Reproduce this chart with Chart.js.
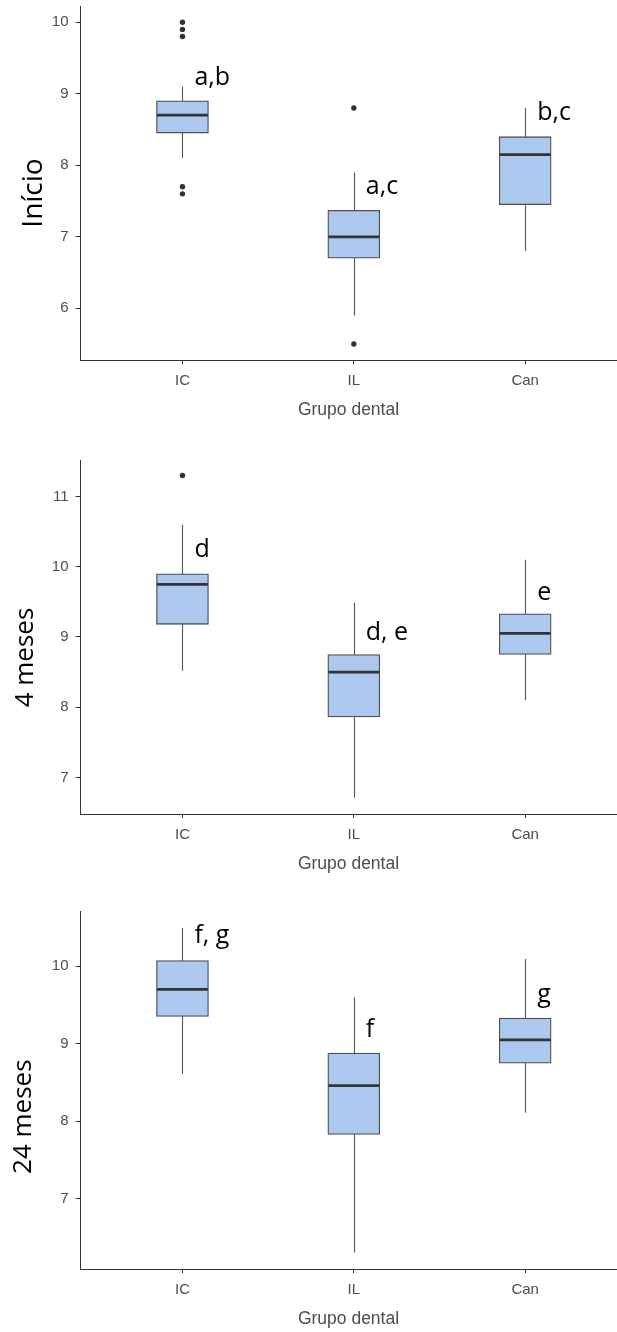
<!DOCTYPE html>
<html lang="pt">
<head>
    <meta charset="UTF-8">
    <title>Grupo dental</title>
    <script src="https://cdn.jsdelivr.net/npm/chart.js"></script>
    <style>
        body { margin: 0; background: #fff; }
        .panel { position: absolute; left: 0; width: 617px; }
    </style>
</head>
<body>
    <div class="panel" style="top:0;height:423px"><canvas id="chartInicio"></canvas></div>
    <div class="panel" style="top:440px;height:437px"><canvas id="chart4m"></canvas></div>
    <div class="panel" style="top:890px;height:442px"><canvas id="chart24m"></canvas></div>

    <script>
        const groups = ['IC', 'IL', 'Can'];
        const xRange = [-0.598, 2.536];

        // Início
        const inicioLow = [8.10, 5.90, 6.80];
        const inicioQ1 = [8.45, 6.70, 7.45];
        const inicioMedian = [8.70, 7.00, 8.15];
        const inicioQ3 = [8.90, 7.37, 8.40];
        const inicioHigh = [9.10, 7.90, 8.80];
        const inicioOutliers = [[10.0, 9.9, 9.8, 7.7, 7.6], [8.8, 5.5], []];
        const inicioLetters = ['a,b', 'a,c', 'b,c'];
        const inicioLetterY = [9.12, 7.60, 8.63];
        const inicioTicks = [6, 7, 8, 9, 10];
        const inicioRange = [5.277, 10.22];

        // 4 meses
        const m4Low = [8.52, 6.71, 8.10];
        const m4Q1 = [9.18, 7.86, 8.75];
        const m4Median = [9.75, 8.50, 9.05];
        const m4Q3 = [9.90, 8.75, 9.33];
        const m4High = [10.60, 9.49, 10.10];
        const m4Outliers = [[11.3], [], []];
        const m4Letters = ['d', 'd, e', 'e'];
        const m4LetterY = [10.14, 8.96, 9.52];
        const m4Ticks = [7, 8, 9, 10, 11];
        const m4Range = [6.479, 11.52];

        // 24 meses
        const m24Low = [8.61, 6.31, 8.11];
        const m24Q1 = [9.35, 7.83, 8.75];
        const m24Median = [9.70, 8.46, 9.05];
        const m24Q3 = [10.07, 8.88, 9.33];
        const m24High = [10.49, 9.60, 10.09];
        const m24Outliers = [[], [], []];
        const m24Letters = ['f, g', 'f', 'g'];
        const m24LetterY = [10.30, 9.09, 9.54];
        const m24Ticks = [7, 8, 9, 10];
        const m24Range = [6.098, 10.70];

        Chart.defaults.font.family = '"Liberation Sans", Arial, sans-serif';
        Chart.defaults.color = '#4d4d4d';

        const boxWidth = 52;

        // whiskers behind the boxes, medians, letters and the y label on top
        const boxParts = {
            id: 'boxParts',
            beforeDatasetsDraw(chart, args, opts) {
                const {ctx, scales: {x, y}} = chart;
                ctx.save();
                ctx.strokeStyle = '#555';
                ctx.lineWidth = 1.1;
                opts.low.forEach((lo, i) => {
                    const px = Math.round(x.getPixelForValue(i)) + 0.5;
                    ctx.beginPath();
                    ctx.moveTo(px, y.getPixelForValue(lo));
                    ctx.lineTo(px, y.getPixelForValue(opts.high[i]));
                    ctx.stroke();
                });
                ctx.restore();
            },
            afterDatasetsDraw(chart, args, opts) {
                const {ctx, scales: {x, y}} = chart;
                ctx.save();
                ctx.strokeStyle = '#333';
                ctx.lineWidth = 2.7;
                opts.median.forEach((m, i) => {
                    const px = x.getPixelForValue(i);
                    const py = y.getPixelForValue(m);
                    ctx.beginPath();
                    ctx.moveTo(px - boxWidth / 2 + 0.6, py);
                    ctx.lineTo(px + boxWidth / 2 - 0.6, py);
                    ctx.stroke();
                });

                ctx.fillStyle = '#000';
                ctx.font = '25px "Open Sans", sans-serif';
                ctx.textAlign = 'left';
                ctx.textBaseline = 'alphabetic';
                opts.letters.forEach((t, i) => {
                    ctx.fillText(t, x.getPixelForValue(i + 0.07), y.getPixelForValue(opts.letterY[i]));
                });

                const lab = opts.yLabel;
                ctx.font = lab.size + 'px "Open Sans", sans-serif';
                ctx.textAlign = 'center';
                ctx.translate(lab.x, lab.y);
                ctx.rotate(-Math.PI / 2);
                ctx.fillText(lab.text, 0, 0);
                ctx.restore();
            }
        };

        function makeChart(id, p) {
            const outlierPoints = [];
            p.outliers.forEach((list, i) => list.forEach(v => outlierPoints.push({x: i, y: v})));

            return new Chart(document.getElementById(id), {
                type: 'bar',
                data: {
                    datasets: [{
                        type: 'bar',
                        data: groups.map((g, i) => ({x: i, y: [p.q1[i], p.q3[i]]})),
                        backgroundColor: '#adc8ef',
                        borderColor: '#505050',
                        borderWidth: 1.3,
                        borderSkipped: false,
                        barThickness: boxWidth
                    }, {
                        type: 'scatter',
                        data: outlierPoints,
                        pointRadius: 2.7,
                        pointBackgroundColor: '#333',
                        pointBorderWidth: 0
                    }]
                },
                options: {
                    responsive: true,
                    maintainAspectRatio: false,
                    animation: false,
                    events: [],
                    layout: { autoPadding: false, padding: { top: p.top, left: 0, right: 0, bottom: 0 } },
                    plugins: {
                        legend: { display: false },
                        tooltip: { enabled: false },
                        boxParts: {
                            low: p.low, high: p.high, median: p.median,
                            letters: p.letters, letterY: p.letterY,
                            yLabel: p.yLabel
                        }
                    },
                    scales: {
                        x: {
                            type: 'linear',
                            offset: false,
                            min: xRange[0],
                            max: xRange[1],
                            afterBuildTicks: s => { s.ticks = groups.map((g, i) => ({value: i})); },
                            afterFit: s => { s.height = 63; s.paddingLeft = 0; s.paddingRight = 0; },
                            ticks: {
                                callback: v => groups[v],
                                font: { size: 15 },
                                color: '#4d4d4d',
                                padding: 8,
                                maxRotation: 0,
                                autoSkip: false
                            },
                            grid: { offset: false, drawOnChartArea: false, tickLength: 4, tickColor: '#333', tickWidth: 1 },
                            border: { color: '#333', width: 1 },
                            title: {
                                display: true,
                                text: 'Grupo dental',
                                font: { size: 17.5 },
                                color: '#4d4d4d',
                                padding: { top: 0, bottom: 2.5 }
                            }
                        },
                        y: {
                            min: p.range[0],
                            max: p.range[1],
                            afterBuildTicks: s => { s.ticks = p.ticks.map(v => ({value: v})); },
                            afterFit: s => { s.width = 80; s.paddingTop = 0; s.paddingBottom = 0; },
                            ticks: { font: { size: 15 }, color: '#4d4d4d', padding: 7 },
                            grid: { drawOnChartArea: false, tickLength: 4.5, tickColor: '#333', tickWidth: 1 },
                            border: { color: '#333', width: 1 }
                        }
                    }
                },
                plugins: [boxParts]
            });
        }

        makeChart('chartInicio', {
            low: inicioLow, q1: inicioQ1, median: inicioMedian, q3: inicioQ3, high: inicioHigh,
            outliers: inicioOutliers, letters: inicioLetters, letterY: inicioLetterY,
            ticks: inicioTicks, range: inicioRange, top: 6.5,
            yLabel: { text: 'Início', size: 28, x: 42, y: 193 }
        });

        makeChart('chart4m', {
            low: m4Low, q1: m4Q1, median: m4Median, q3: m4Q3, high: m4High,
            outliers: m4Outliers, letters: m4Letters, letterY: m4LetterY,
            ticks: m4Ticks, range: m4Range, top: 20,
            yLabel: { text: '4 meses', size: 26, x: 33, y: 217.5 }
        });

        makeChart('chart24m', {
            low: m24Low, q1: m24Q1, median: m24Median, q3: m24Q3, high: m24High,
            outliers: m24Outliers, letters: m24Letters, letterY: m24LetterY,
            ticks: m24Ticks, range: m24Range, top: 21.7,
            yLabel: { text: '24 meses', size: 26, x: 31, y: 226.7 }
        });
    </script>
</body>
</html>
